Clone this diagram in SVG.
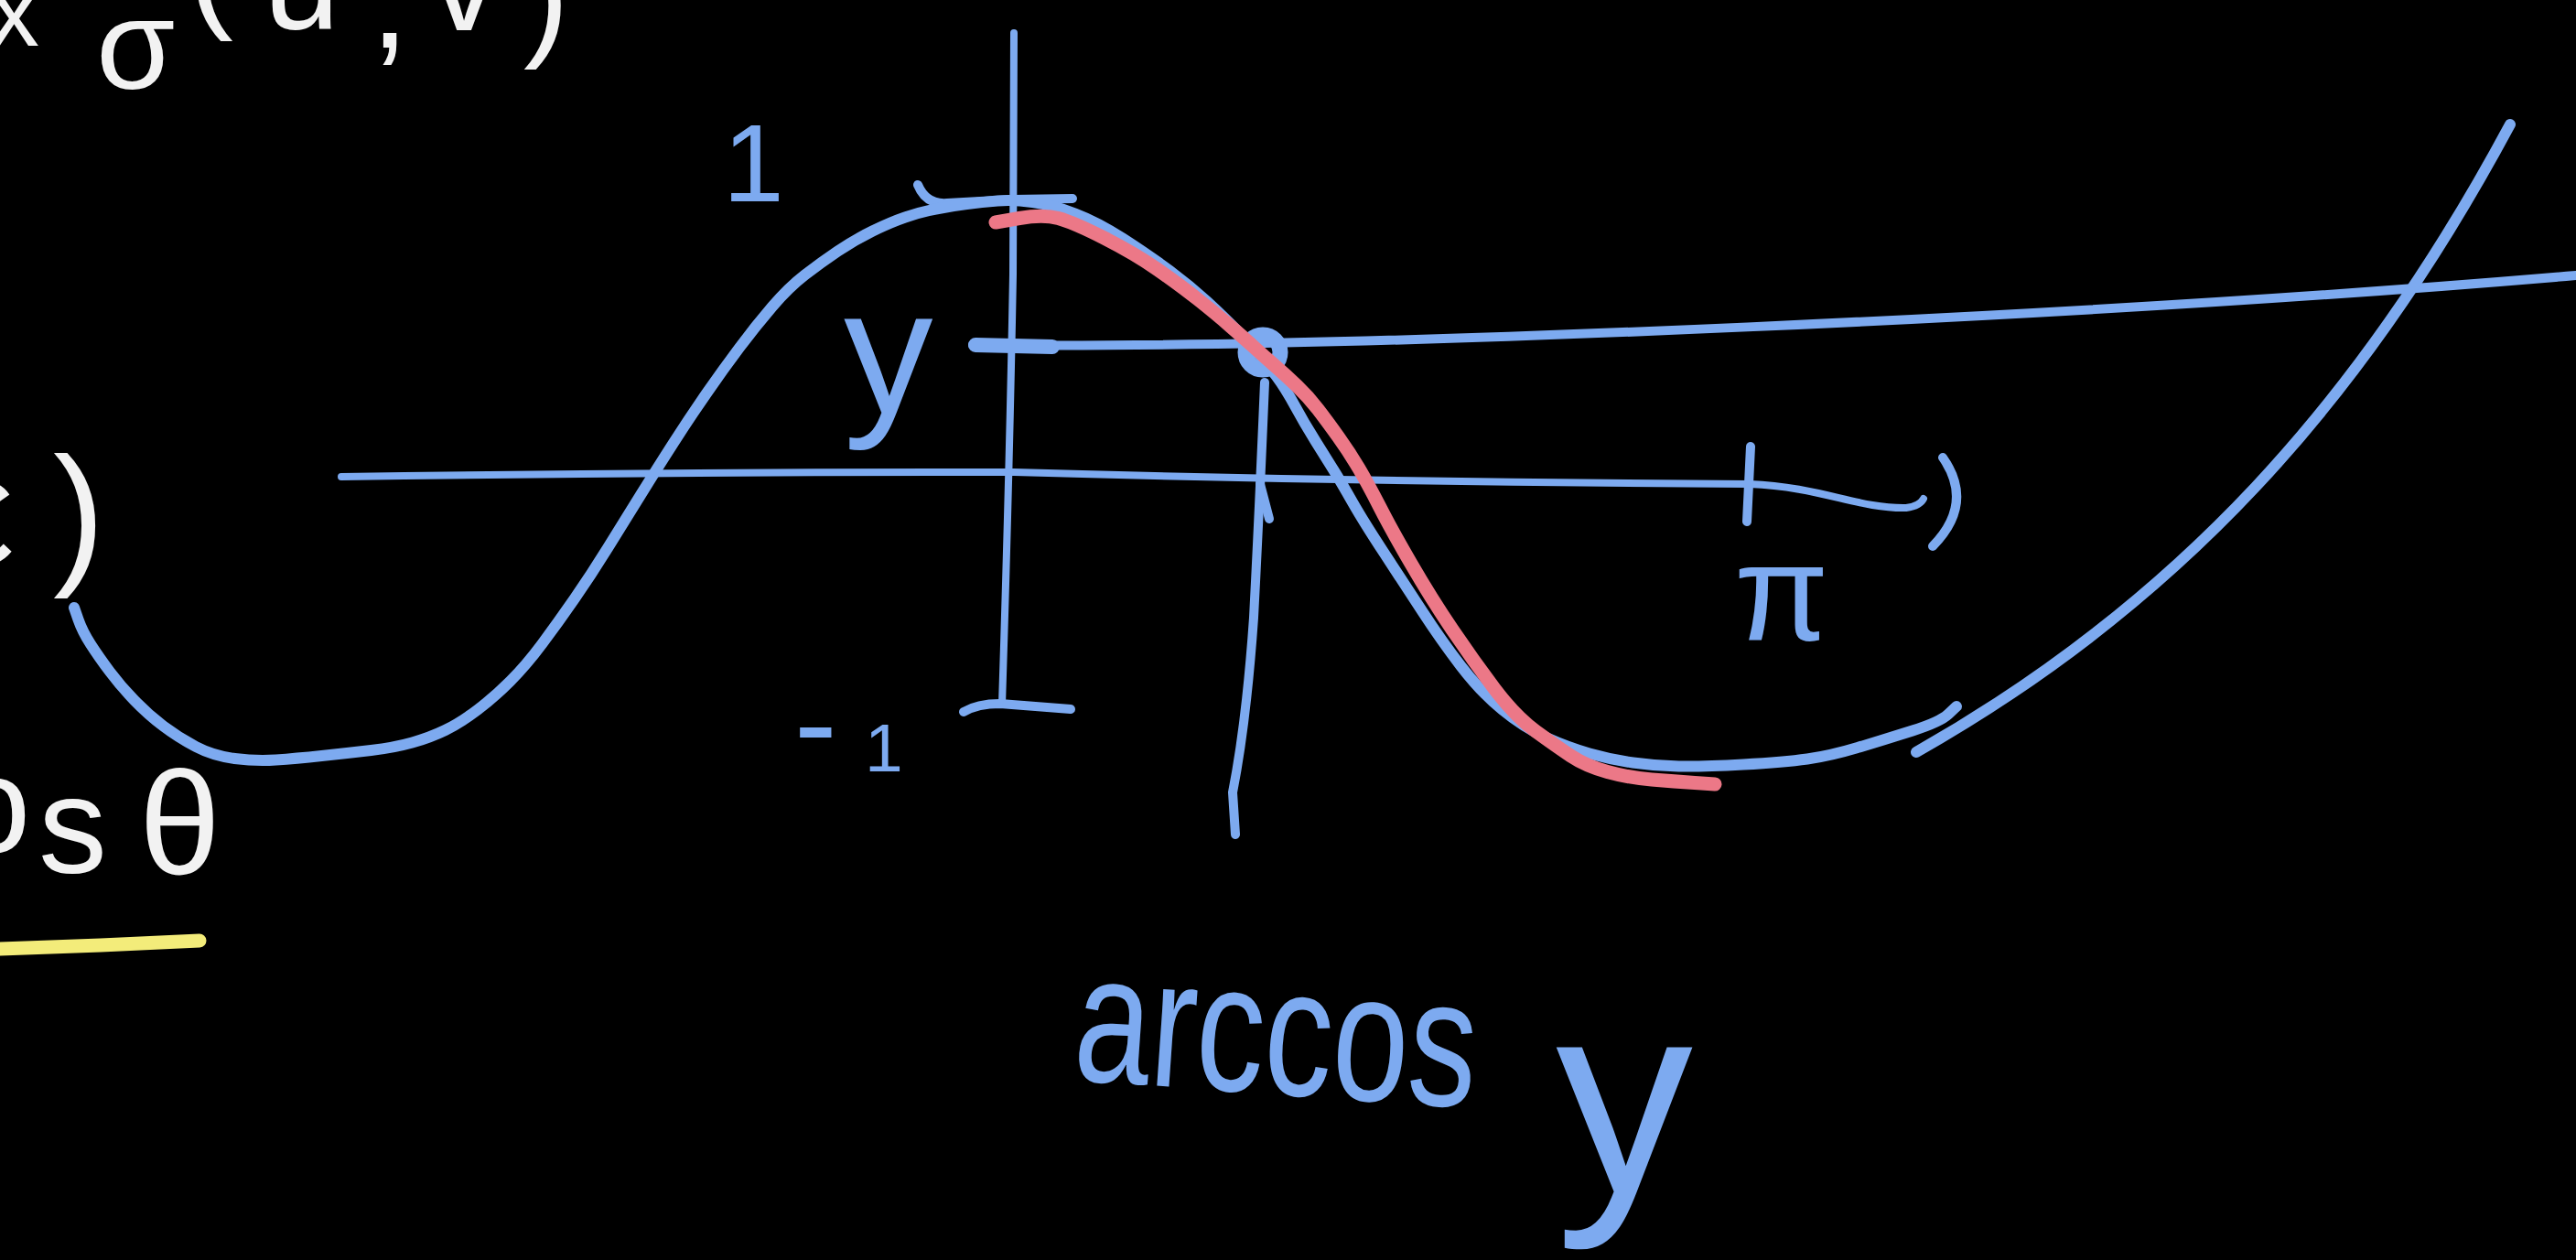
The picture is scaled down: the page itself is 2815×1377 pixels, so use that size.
<svg xmlns="http://www.w3.org/2000/svg" width="2815" height="1377" viewBox="0 0 2815 1377">
<style>
.b{fill:none;stroke:#7daaf0;stroke-linecap:round;stroke-linejoin:round}
.r{fill:none;stroke:#ec7887;stroke-linecap:round;stroke-linejoin:round}
.tb{fill:#7daaf0;font-family:"Liberation Sans","DejaVu Sans",sans-serif}
.tw{fill:#f2f2f2;font-family:"Liberation Sans","DejaVu Sans",sans-serif}
</style>
<rect x="0" y="0" width="2815" height="1377" fill="#000"/>

<g id="white-text">
<text class="tw" x="-12" y="50" font-size="110">x</text>
<text class="tw" x="105" y="97" font-size="140">σ</text>
<text class="tw" font-size="150"><tspan x="205" y="14">(</tspan><tspan x="288" y="32">u</tspan><tspan x="405" y="52">,</tspan><tspan x="470" y="33">v</tspan><tspan x="572" y="45">)</tspan></text>
<text class="tw" font-size="170"><tspan x="-60" y="617">ε</tspan><tspan x="58" y="619">)</tspan></text>
<text class="tw" font-size="150"><tspan x="-50" y="932">o</tspan><tspan x="42" y="954">s</tspan></text>
<text class="tw" x="152" y="955" font-size="160">θ</text>
</g>
<g id="underline">
<path d="M0,1037 L110,1033 L218,1028" fill="none" stroke="#f3ec7a" stroke-width="15" stroke-linecap="round"/>
</g>

<g id="axes">
<path class="b" stroke-width="8" d="M1108,36 L1107,300 Q1103,520 1095,770"/>
<path class="b" stroke-width="8" d="M373,521 Q740,516 1108,516 Q1500,527 1912,529 C1990,532 2030,556 2083,555 Q2098,553 2102,545"/>
<path class="b" stroke-width="10" d="M1913,488 L1909,570"/>
<path class="b" stroke-width="10" d="M2123,500 Q2158,550 2112,597"/>
<path class="b" stroke-width="10" d="M1003,202 Q1012,224 1035,222 L1107,218 L1172,217"/>
<path class="b" stroke-width="10" d="M1053,778 Q1068,769 1093,769 L1170,775"/>
</g>

<g id="level-line">
<path class="b" stroke-width="10" d="M1063,377 C1500,382 2300,345 2815,301"/>
<path class="b" stroke-width="16" d="M1066,377 L1150,379"/>
<path class="b" stroke-width="10" d="M1382,418 Q1376,560 1370,675 Q1362,790 1347,866 L1350,912"/>
<path class="b" stroke-width="10" d="M1377,529 L1387,567"/>
<circle cx="1380" cy="385" r="19" fill="none" stroke="#7daaf0" stroke-width="17"/>
</g>

<g id="curves">
<path class="b" stroke-width="12" d="M81,664 L85.5,677 Q90,690 99,704 Q108,718 120,734 Q132,750 147,765.5 Q162,781 178.5,793.5 Q195,806 214,816 Q233,826 256.5,829 Q280,832 301.5,830.5 Q323,829 351.5,826 Q380,823 405.5,820 Q431,817 450.5,811.5 Q470,806 486.5,798 Q503,790 521.5,776 Q540,762 557.5,744.5 Q575,727 592.5,703.5 Q610,680 628,654 Q646,628 664,599 Q682,570 700,541 Q718,512 736,484 Q754,456 772,430 Q790,404 808,380 Q826,356 844,335 Q862,314 879.5,300.5 Q897,287 915.5,274.5 Q934,262 953.5,252.5 Q973,243 989,237.5 Q1005,232 1022.5,228.5 Q1040,225 1056.5,223 Q1073,221 1090,219.5 Q1107,218 1128.5,221 Q1150,224 1175,233.5 Q1200,243 1228.5,261.5 Q1257,280 1278.5,296 Q1300,312 1319,329.5 Q1338,347 1351.5,361 Q1365,375 1375,386.5 Q1385,398 1395,411.5 Q1405,425 1415,443.5 Q1425,462 1437.5,482 Q1450,502 1457.5,514 Q1465,526 1477.5,548 Q1490,570 1512,603.5 Q1534,637 1554.5,668.5 Q1575,700 1596.5,728 Q1618,756 1641.5,775.5 Q1665,795 1689.5,806 Q1714,817 1737,823.5 Q1760,830 1784.5,833.5 Q1809,837 1834.5,837.5 Q1860,838 1905,835.5 Q1950,833 1975,829.5 Q2000,826 2030,817 Q2060,808 2090,798.5 Q2120,789 2129,780.5 L2138,772"/>
<path class="r" stroke-width="15" d="M1088,243 L1114,238.5 Q1140,234 1156.5,238.5 Q1173,243 1206.5,260 Q1240,277 1265,294.5 Q1290,312 1309.5,327.5 Q1329,343 1344.5,356.5 Q1360,370 1371,380 Q1382,390 1393.5,400 Q1405,410 1417.5,422 Q1430,434 1440,447 Q1450,460 1462.5,477.5 Q1475,495 1485,512 Q1495,529 1507.5,553.5 Q1520,578 1542,616 Q1564,654 1587,688 Q1610,722 1633,752.5 Q1656,783 1678,799 Q1700,815 1716.5,826 Q1733,837 1756.5,843.5 Q1780,850 1805,852 Q1830,854 1852,855.5 L1874,857"/>
<path class="b" stroke-width="12" d="M2094,822 C2380,660 2580,440 2743,136"/>
</g>

<g id="labels">
<text class="tb" x="790" y="220" font-size="120">1</text>
<text class="tb"><tspan x="868" y="838" font-size="140">-</tspan><tspan x="945" y="843" font-size="75">1</tspan></text>
<text class="tb" x="922" y="452" font-size="195">y</text>
<text class="tb" x="1895" y="700" font-size="150">π</text>
<text class="tb" x="1171" y="1180" font-size="200" textLength="440" lengthAdjust="spacingAndGlyphs" transform="rotate(4 1171 1180)">arccos</text>
<text class="tb" x="1700" y="1303" font-size="300">y</text>
</g>
</svg>
